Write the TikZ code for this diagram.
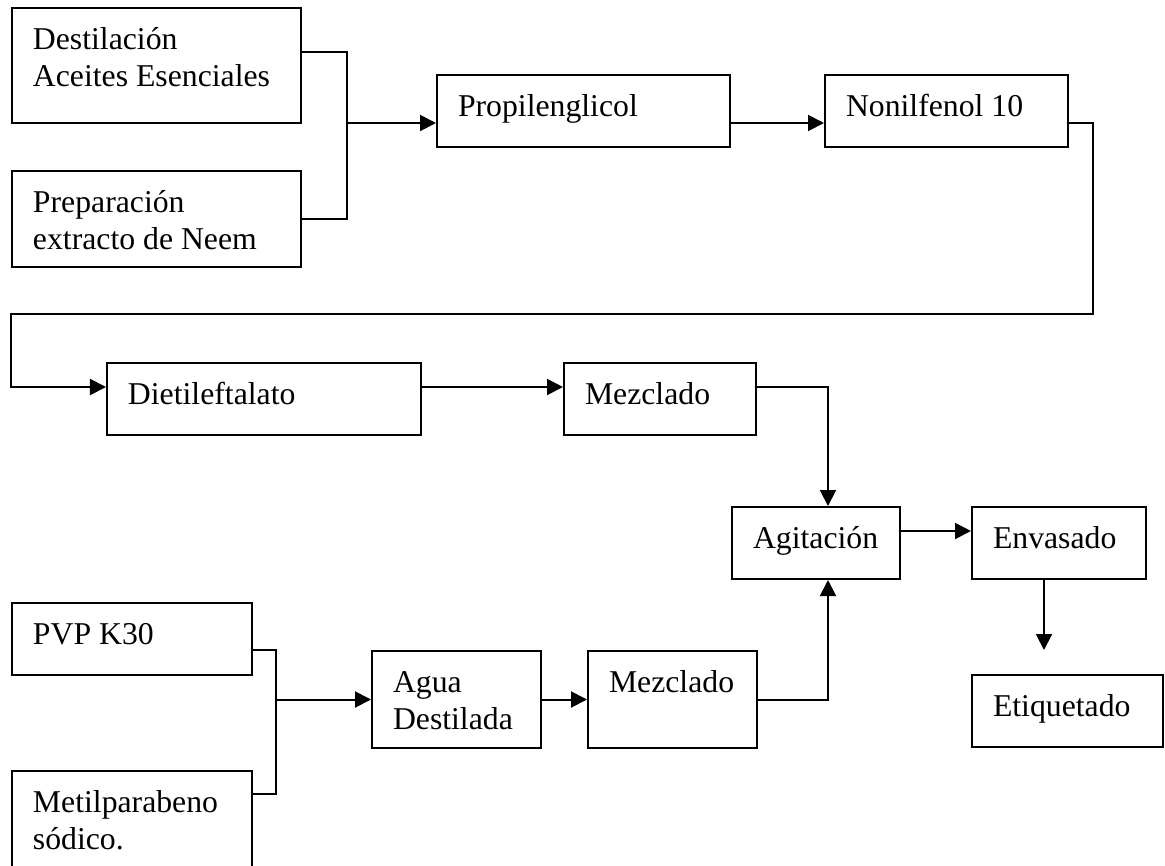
\documentclass[tikz,border=0pt]{standalone}
\usepackage{fontspec}
\setmainfont{Liberation Serif}
\usetikzlibrary{arrows.meta}
\hyphenpenalty=10000
\exhyphenpenalty=10000
\tikzstyle{fStep} = [rectangle, draw=black, line width=1.5pt, inner xsep=15.75pt, inner ysep=0pt, text height=30.75pt, text depth=23.25pt, align=flush left, font=\fontsize{23.8pt}{28pt}\selectfont]
\tikzstyle{fLine} = [line width=1.5pt]
\tikzstyle{fArrow} = [line width=1.5pt, -{Triangle[length=12pt, width=12pt]}]

\begin{document}
\begin{tikzpicture}
    \useasboundingbox (-117.375pt,49.125pt) rectangle (756.375pt,-599.625pt);
    \node (destilacion) [fStep, text width=185.25pt, text depth=55.5pt] {Destilación\\Aceites Esenciales};
    \node (neem) [fStep, node distance=115.125pt, below of=destilacion, text width=185.25pt, text depth=41.25pt] {Preparación\\extracto de Neem};
    \node (propilenglicol) [fStep, node distance=320.25pt, right of=destilacion, yshift=-34.125pt, text width=188.25pt] {Propilenglicol};
    \node (nonilfenol) [fStep, node distance=272.25pt, right of=propilenglicol, text width=150.75pt] {Nonilfenol 10};
    \node (dietil) [fStep, node distance=135pt, below of=neem, xshift=80.625pt, text width=204pt] {Dietileftalato};
    \node (mezclado1) [fStep, node distance=297pt, right of=dietil, text width=112.5pt] {Mezclado};
    \node (agitacion) [fStep, node distance=108pt, below of=mezclado1, xshift=117pt, text width=94.5pt] {Agitación};
    \node (envasado) [fStep, node distance=182.25pt, right of=agitacion, text width=99pt] {Envasado};
    \node (etiquetado) [fStep, node distance=126pt, below of=envasado, xshift=6.375pt, text width=111.75pt] {Etiquetado};
    \node (pvp) [fStep, node distance=315pt, below of=neem, xshift=-18.375pt, text width=148.5pt] {PVP K30};
    \node (metil) [fStep, node distance=136.125pt, below of=pvp, text width=148.5pt, text depth=43.5pt] {Metilparabeno\\sódico.};
    \node (agua) [fStep, node distance=243.375pt, right of=pvp, yshift=-45.375pt, text width=95.25pt, text depth=42pt] {Agua\\Destilada};
    \node (mezclado2) [fStep, node distance=162pt, right of=agua, text width=95.25pt, text depth=42pt] {Mezclado};

    \coordinate (jTop) at ([xshift=-66.75pt, yshift=-9pt]propilenglicol.west);
    \coordinate (jLeft) at ([xshift=-71.25pt, yshift=36pt]dietil.north west);
    \coordinate (jLow) at ([xshift=-71.25pt]agua.west);

    \draw [fLine] ([yshift=10.125pt]destilacion.east) -| (jTop) |- (neem.east);
    \draw [fArrow] (jTop) -- ([yshift=-9pt]propilenglicol.west);
    \draw [fArrow] ([yshift=-9pt]propilenglicol.east) -- ([yshift=-9pt]nonilfenol.west);
    \draw [fArrow] ([yshift=-9pt]nonilfenol.east) -- ++(18pt,0) |- (jLeft) |- ([yshift=9pt]dietil.west);
    \draw [fArrow] ([yshift=9pt]dietil.east) -- ([yshift=9pt]mezclado1.west);
    \draw [fArrow] ([yshift=9pt]mezclado1.east) -| ([xshift=9pt]agitacion.north);
    \draw [fArrow] ([yshift=9pt]agitacion.east) -- ([yshift=9pt]envasado.west);
    \draw [fArrow, shorten >=18pt] ([xshift=-11.25pt]envasado.south) -- ([xshift=-11.25pt]envasado.south |- etiquetado.north);
    \draw [fLine] ([yshift=-36pt]pvp.north east) -| (jLow) |- ([yshift=-18pt]metil.north east);
    \draw [fArrow] (jLow) -- (agua.west);
    \draw [fArrow] (agua.east) -- (mezclado2.west);
    \draw [fArrow] (mezclado2.east) -| ([xshift=9pt]agitacion.south);
\end{tikzpicture}
\end{document}
